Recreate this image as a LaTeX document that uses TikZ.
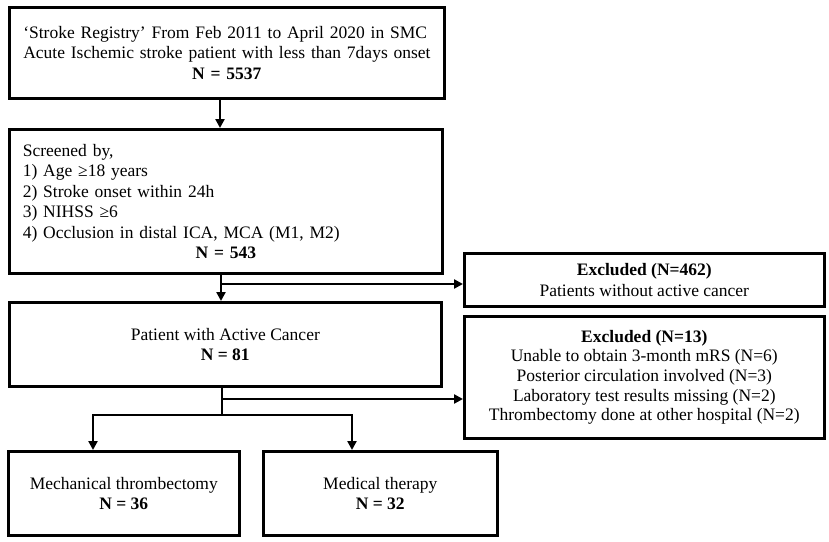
\documentclass[tikz,border=0pt]{standalone}
\usepackage{fontspec}
\setmainfont{Liberation Serif}
\usetikzlibrary{arrows.meta}
\begin{document}
\begin{tikzpicture}[x=1pt,y=-1pt,
  box/.style={draw=black, line width=2.6pt, inner sep=0pt, anchor=north west, font=\fontsize{17.5}{20.5}\selectfont},
  conn/.style={line width=2.4pt, draw=black},
  arr/.style={conn, -{Triangle[length=9pt,width=9pt]}}]
\useasboundingbox[fill=white] (0,0) rectangle (829,541);
% boxes
\node[box, minimum width=435pt, minimum height=91pt, text width=407pt, align=left] (reg) at (8,6)
  {\mbox{‘Stroke Registry’ From Feb 2011 to April 2020 in SMC}\\
   \mbox{Acute Ischemic stroke patient with less than 7days onset}\\
   \makebox[\hsize]{\bfseries N = 5537}};
\node[box, minimum width=433pt, minimum height=144pt, text width=406pt, align=left] (scr) at (8,128)
  {Screened by,\\
   1) Age ≥18 years\\
   2) Stroke onset within 24h\\
   3) NIHSS ≥6\\
   4) Occlusion in distal ICA, MCA (M1, M2)\\
   \makebox[\hsize]{\bfseries N = 543}};
\node[box, minimum width=432pt, minimum height=84pt, align=center] (can) at (8,301)
  {Patient with Active Cancer\\ \textbf{N = 81}};
\node[box, minimum width=360pt, minimum height=53pt, align=center] (ex1) at (463,252)
  {\textbf{Excluded (N=462)}\\ Patients without active cancer};
\node[box, minimum width=360pt, minimum height=122pt, align=center, font=\fontsize{17.5}{19.7}\selectfont] (ex2) at (463,315)
  {\textbf{Excluded (N=13)}\\
   Unable to obtain 3-month mRS (N=6)\\
   Posterior circulation involved (N=3)\\
   Laboratory test results missing (N=2)\\
   Thrombectomy done at other hospital (N=2)};
\node[box, minimum width=231pt, minimum height=84pt, align=center] (mt) at (7,450)
  {Mechanical thrombectomy\\ \textbf{N = 36}};
\node[box, minimum width=234pt, minimum height=84pt, align=center] (med) at (262,450)
  {Medical therapy\\ \textbf{N = 32}};
% connectors
\coordinate (a1) at (220,97);
\draw[arr] (a1) -- (a1 |- scr.north);
\coordinate (s1) at (221,272);
\coordinate (b1) at (221,284);
\draw[arr] (s1) -- (s1 |- can.north);
\draw[arr] (b1) -- (b1 -| ex1.west);
\coordinate (c1) at (222,385);
\coordinate (b2) at (222,399);
\coordinate (b3) at (222,415);
\coordinate (l1) at (93,415);
\coordinate (r1) at (352,415);
\draw[conn] (c1) -- (b3);
\draw[arr] (b2) -- (b2 -| ex2.west);
\draw[arr] (b3) -- (l1) -- (l1 |- mt.north);
\draw[arr] (b3) -- (r1) -- (r1 |- med.north);
\end{tikzpicture}
\end{document}
